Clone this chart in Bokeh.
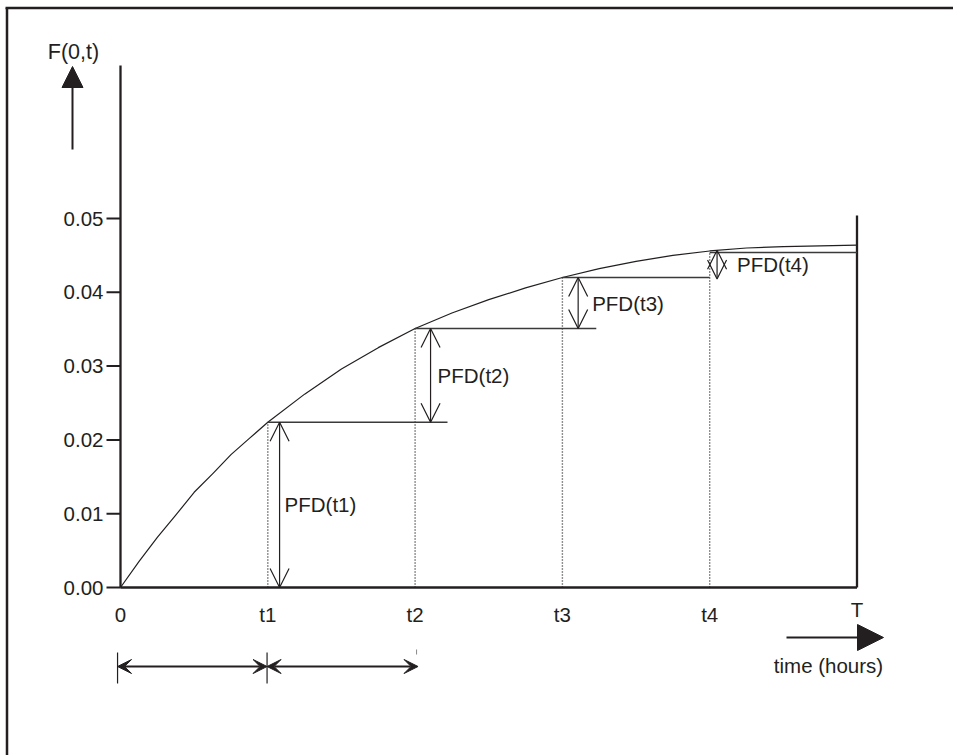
from bokeh.plotting import figure
from bokeh.models import Range1d, ColumnDataSource, Arrow, OpenHead, NormalHead, VeeHead
from bokeh.core.properties import value
from bokeh.embed import file_html
from bokeh.resources import INLINE

# ---- data -------------------------------------------------------------
# cumulative failure probability F(0,t) over the test interval
curve_t = [0.0, 0.125, 0.25, 0.375, 0.5, 0.625, 0.75, 0.875, 1.0, 1.25, 1.5,
           1.75, 2.0, 2.25, 2.5, 2.75, 3.0, 3.25, 3.5, 3.75, 4.0, 4.25, 4.5,
           4.75, 5.0]
curve_f = [0.0, 0.0035, 0.0068, 0.0098, 0.0129, 0.0154, 0.0180, 0.0202,
           0.0224, 0.0262, 0.0296, 0.0325, 0.0351, 0.0372, 0.0390, 0.0406,
           0.0420, 0.0432, 0.0442, 0.0450, 0.0456, 0.0460, 0.0462, 0.0463,
           0.0464]

# sample instants and the level reached at each one
step_t = [1, 2, 3, 4]
step_f = [0.0224, 0.0351, 0.0420, 0.0454]
step_end = [2.22, 3.23, 4.0, 5.0]

# PFD increments between successive instants
pfd_x = [1.08, 2.105, 3.107, 4.05]
pfd_low = [0.0, 0.0224, 0.0351, 0.0418]
pfd_high = [0.0224, 0.0351, 0.0420, 0.0457]
pfd_labels = ["PFD(t1)", "PFD(t2)", "PFD(t3)", "PFD(t4)"]

y_ticks = [0.0, 0.01, 0.02, 0.03, 0.04, 0.05]
y_tick_labels = ["0.00", "0.01", "0.02", "0.03", "0.04", "0.05"]
x_ticks = [0, 1, 2, 3, 4, 5]
x_tick_labels = ["0", "t1", "t2", "t3", "t4", "T"]

# intervals marked below the time axis
interval_start = [-0.02, 0.995]
interval_end = [0.995, 2.02]

# ---- canvas geometry ----------------------------------------------------
W, H = 953, 755
X0, DX = 120.0, 147.3     # pixel of t=0, pixels per time unit
Y0, DY = 587.0, 7380.0    # pixel of F=0, pixels per unit of F


def px(x):
    return (x - X0) / DX


def py(y):
    return (Y0 - y) / DY


INK = "#231f20"
FONT = value("Liberation Sans")
FS = "20.5px"

p = figure(width=W, height=H, output_backend="svg", toolbar_location=None,
           x_range=Range1d(px(0), px(W)), y_range=Range1d(py(H), py(0)),
           x_axis_type=None, y_axis_type=None, min_border=0)
p.grid.visible = False
p.outline_line_color = None
p.background_fill_color = "white"
p.border_fill_color = "white"

# page frame (top and left edges)
p.segment(x0=[px(5), px(6.5)], y0=[py(7.5), py(7.5)],
          x1=[px(W), px(6.5)], y1=[py(7.5), py(H)],
          line_color=INK, line_width=2.5)

# axes
p.segment(x0=[0, 0, 5], y0=[0, 0, 0], x1=[0, 5, 5], y1=[py(65), 0, py(215)],
          line_color=INK, line_width=2.3)

# y ticks and labels
p.segment(x0=[px(106)] * len(y_ticks), y0=y_ticks, x1=[0] * len(y_ticks), y1=y_ticks,
          line_color=INK, line_width=2)
p.text(x=[px(103)] * len(y_ticks), y=y_ticks, text=y_tick_labels,
       text_font=FONT, text_font_size=FS, text_align="right",
       text_baseline="middle", text_color=INK)

# x tick labels
p.text(x=x_ticks[:-1], y=[0] * (len(x_ticks) - 1), text=x_tick_labels[:-1],
       y_offset=27, text_font=FONT, text_font_size=FS, text_align="center",
       text_baseline="middle", text_color=INK)
p.text(x=x_ticks[-1:], y=[0], text=x_tick_labels[-1:], y_offset=22,
       text_font=FONT, text_font_size=FS, text_align="center",
       text_baseline="middle", text_color=INK)

# F(0,t) curve
p.line(curve_t, curve_f, line_color=INK, line_width=1.2, line_join="round")

# dotted verticals at each instant
p.segment(x0=step_t, y0=[0] * 4, x1=step_t, y1=step_f,
          line_color=INK, line_width=1.4, line_dash="1 2")

# horizontal levels
p.segment(x0=step_t, y0=step_f, x1=step_end, y1=step_f,
          line_color="#3a3a3a", line_width=1.5)

# PFD double arrows
src = ColumnDataSource(dict(x=pfd_x, y0=pfd_low, y1=pfd_high))
p.add_layout(Arrow(x_start="x", y_start="y0", x_end="x", y_end="y1", source=src,
                   line_color=INK, line_width=1.2,
                   start=OpenHead(size=19, line_color=INK, line_width=1.2),
                   end=OpenHead(size=19, line_color=INK, line_width=1.2)))

label_dx = [5, 7, 14, 20]
label_y = [(a + b) / 2 for a, b in zip(pfd_low, pfd_high)]
p.text(x=pfd_x, y=label_y, text=pfd_labels, x_offset=label_dx,
       text_font=FONT, text_font_size=FS, text_align="left",
       text_baseline="middle", text_color=INK)

# axis direction arrows and captions
p.add_layout(Arrow(x_start=px(72), y_start=py(149), x_end=px(72), y_end=py(66),
                   line_color=INK, line_width=2,
                   end=NormalHead(size=21, fill_color=INK, line_color=INK)))
p.text(x=[px(73)], y=[py(51)], text=["F(0,t)"], text_font=FONT,
       text_font_size="21.5px", text_align="center", text_baseline="middle",
       text_color=INK)

p.add_layout(Arrow(x_start=px(786), y_start=py(637), x_end=px(883), y_end=py(637),
                   line_color=INK, line_width=2.2,
                   end=NormalHead(size=26, fill_color=INK, line_color=INK)))
p.text(x=[px(828)], y=[py(665)], text=["time (hours)"], text_font=FONT,
       text_font_size=FS, text_align="center", text_baseline="middle",
       text_color=INK)

# test-interval markers below the time axis
isrc = ColumnDataSource(dict(x0=interval_start, x1=interval_end,
                             y=[py(666)] * len(interval_start)))
p.add_layout(Arrow(x_start="x0", y_start="y", x_end="x1", y_end="y", source=isrc,
                   line_color=INK, line_width=2.2,
                   start=VeeHead(size=14, fill_color=INK, line_color=INK),
                   end=VeeHead(size=14, fill_color=INK, line_color=INK)))
p.segment(x0=interval_start, y0=[py(652)] * 2, x1=interval_start, y1=[py(683)] * 2,
          line_color=INK, line_width=1.2)
p.segment(x0=[interval_end[-1] - 0.01], y0=[py(649)], x1=[interval_end[-1] - 0.01],
          y1=[py(654)], line_color="#888888", line_width=1)

open("out.html", "w").write(file_html(p, INLINE))
